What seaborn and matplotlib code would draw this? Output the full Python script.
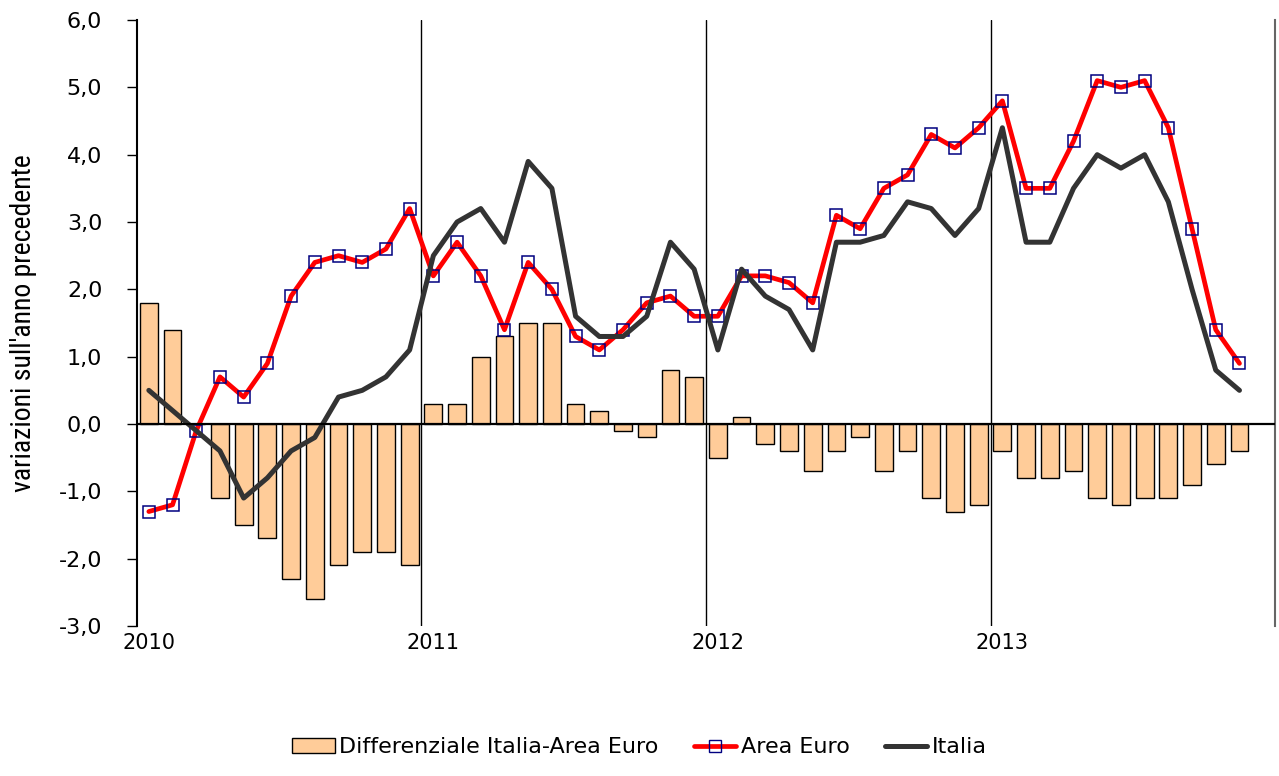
import numpy as np
import matplotlib.pyplot as plt
import seaborn as sns
from matplotlib.patches import Patch
from matplotlib.lines import Line2D

# Monthly data Jan 2010 - Nov 2013 (Dec 2013 not available)
years = ['2010', '2011', '2012', '2013']
months = [f'{y}-{m:02d}' for y in years for m in range(1, 13)]

area_euro = [-1.3, -1.2, -0.1, 0.7, 0.4, 0.9, 1.9, 2.4, 2.5, 2.4, 2.6, 3.2,
             2.2, 2.7, 2.2, 1.4, 2.4, 2.0, 1.3, 1.1, 1.4, 1.8, 1.9, 1.6,
             1.6, 2.2, 2.2, 2.1, 1.8, 3.1, 2.9, 3.5, 3.7, 4.3, 4.1, 4.4,
             4.8, 3.5, 3.5, 4.2, 5.1, 5.0, 5.1, 4.4, 2.9, 1.4, 0.9]
italia = [0.5, 0.2, -0.1, -0.4, -1.1, -0.8, -0.4, -0.2, 0.4, 0.5, 0.7, 1.1,
          2.5, 3.0, 3.2, 2.7, 3.9, 3.5, 1.6, 1.3, 1.3, 1.6, 2.7, 2.3,
          1.1, 2.3, 1.9, 1.7, 1.1, 2.7, 2.7, 2.8, 3.3, 3.2, 2.8, 3.2,
          4.4, 2.7, 2.7, 3.5, 4.0, 3.8, 4.0, 3.3, 2.0, 0.8, 0.5]
differenziale = [1.8, 1.4, 0.0, -1.1, -1.5, -1.7, -2.3, -2.6, -2.1, -1.9, -1.9, -2.1,
                 0.3, 0.3, 1.0, 1.3, 1.5, 1.5, 0.3, 0.2, -0.1, -0.2, 0.8, 0.7,
                 -0.5, 0.1, -0.3, -0.4, -0.7, -0.4, -0.2, -0.7, -0.4, -1.1, -1.3, -1.2,
                 -0.4, -0.8, -0.8, -0.7, -1.1, -1.2, -1.1, -1.1, -0.9, -0.6, -0.4]

y_ticks = [-3, -2, -1, 0, 1, 2, 3, 4, 5, 6]
y_labels = ['-3,0', '-2,0', '-1,0', '0,0', '1,0', '2,0', '3,0', '4,0', '5,0', '6,0']

sns.set_style('white')
plt.rcParams['font.family'] = ['DejaVu Sans']
plt.rcParams['text.color'] = 'black'
plt.rcParams['axes.labelcolor'] = 'black'
plt.rcParams['xtick.color'] = 'black'
plt.rcParams['ytick.color'] = 'black'
narrow = ['DejaVu Sans Condensed', 'Liberation Sans Narrow', 'Roboto Condensed', 'DejaVu Sans']

fig = plt.figure(figsize=(12.79, 7.76), dpi=100)
ax = fig.add_axes([0.1071, 0.1933, 0.8898, 0.7809])

n = len(area_euro)
sns.barplot(x=months[:n], y=differenziale, order=months, color='#FFCC99',
            saturation=1, edgecolor='black', linewidth=1, width=0.75, ax=ax,
            zorder=2)
pos = np.arange(n)
sns.lineplot(x=pos, y=area_euro, color='red', lw=3.4, marker='s', markersize=8,
             markerfacecolor='none', markeredgecolor='#000080',
             markeredgewidth=1.1, ax=ax, zorder=3)
sns.lineplot(x=pos, y=italia, color='#333333', lw=3.6, ax=ax, zorder=4)

# year separators
for b in [11.5, 23.5, 35.5]:
    ax.axvline(b, color='black', lw=1, zorder=1)
ax.axhline(0, color='black', lw=1.6, zorder=5)

ax.set_xlim(-0.5, 47.5)
ax.set_ylim(-3, 6)
ax.set_yticks(y_ticks)
ax.set_yticklabels(y_labels, fontsize=16)
ax.tick_params(axis='y', direction='out', length=7, width=1, left=True, pad=18)

ax.set_xticks([0.0, 12.0, 24.0, 36.0])
ax.set_xticklabels(years, fontsize=15)
ax.tick_params(axis='x', length=0, pad=5)

for s in ['top', 'bottom']:
    ax.spines[s].set_visible(False)
ax.spines['left'].set_color('black')
ax.spines['left'].set_linewidth(1.5)
ax.spines['right'].set_color('#666666')
ax.spines['right'].set_linewidth(1.5)

ax.set_ylabel("variazioni sull'anno precedente", fontsize=20, family=narrow,
              labelpad=16)

handles = [
    Patch(facecolor='#FFCC99', edgecolor='black', label='Differenziale Italia-Area Euro'),
    Line2D([], [], color='red', lw=3.4, marker='s', markersize=8,
           markerfacecolor='none', markeredgecolor='#000080', label='Area Euro'),
    Line2D([], [], color='#333333', lw=3.6, label='Italia'),
]
ax.legend(handles=handles, loc='center', bbox_to_anchor=(0.5, 0.037),
          bbox_transform=fig.transFigure, ncol=3, frameon=False,
          prop={'family': 'DejaVu Sans', 'size': 16}, handlelength=1.9,
          handletextpad=0.2, columnspacing=1.6)

fig.savefig('out.png', dpi=100)
